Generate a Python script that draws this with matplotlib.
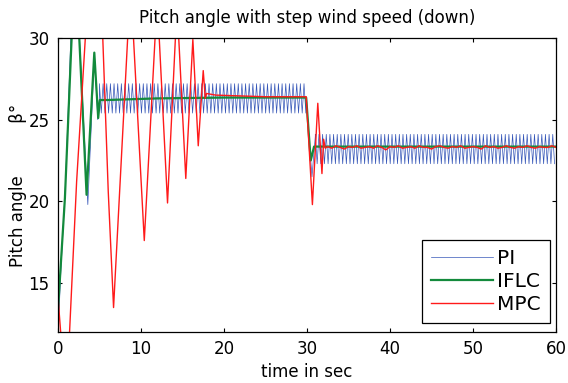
import matplotlib.pyplot as plt
import numpy as np

plt.rcParams['font.family'] = ['DejaVu Sans']

# ---- data (time in s, pitch angle in deg) ----
# PI: start-up transient, then a fast oscillation inside a band
pi_trans_t = [0.0, 0.3, 0.9, 1.55, 2.0, 2.6, 3.6, 4.4, 4.8, 5.0]
pi_trans_y = [11.5, 15.2, 21.0, 30.0, 33.0, 30.0, 19.8, 29.0, 25.0, 26.3]
pi_step_t = [29.9, 30.6, 31.0]
pi_step_y = [26.3, 21.5, 24.0]
pi_band_start = [5.0, 31.0]
pi_band_end = [29.9, 60.0]
pi_band_hi = [27.2, 24.1]
pi_band_lo = [25.4, 22.3]
pi_period = 0.44

# IFLC
iflc_t = [0.0, 0.84, 1.65, 2.1, 2.57, 3.45, 4.38, 4.85, 5.05, 6.0, 12.0, 20.0,
          29.9, 30.45, 30.85, 60.0]
iflc_y = [13.3, 20.2, 30.0, 33.5, 30.0, 20.4, 29.1, 25.1, 26.2, 26.2, 26.3, 26.35,
          26.35, 22.5, 23.35, 23.35]

# MPC
mpc_t = [0.0, 0.7, 1.4, 2.25, 3.3, 4.4, 5.4, 6.06, 6.7, 8.4, 8.75, 9.1, 10.4,
         11.7, 11.95, 12.2, 13.2, 14.15, 14.35, 14.55, 15.4, 16.25, 16.9, 17.5,
         17.75, 17.9, 19.0, 22.0, 25.0, 29.9, 30.65, 31.3, 31.8, 32.0, 32.2]
mpc_y = [14.2, 9.5, 12.0, 21.2, 30.0, 38.0, 30.0, 20.6, 13.5, 30.0, 33.0, 30.0, 17.6,
         30.0, 31.5, 30.0, 19.9, 30.0, 30.6, 30.0, 21.4, 29.9, 23.4, 28.0,
         26.3, 26.6, 26.5, 26.45, 26.4, 26.4, 19.8, 26.0, 21.7, 23.8, 23.25]
# small ripple on the settled MPC response, every 0.5 s from 32.5 s
mpc_tail_y = [23.35, 23.25, 23.4, 23.3, 23.2, 23.35, 23.3, 23.4, 23.25, 23.3,
              23.35, 23.25, 23.4, 23.3, 23.15, 23.35, 23.3, 23.4, 23.25, 23.3,
              23.35, 23.25, 23.4, 23.3, 23.3, 23.2, 23.35, 23.4, 23.3, 23.25,
              23.35, 23.3, 23.4, 23.25, 23.3, 23.35, 23.3, 23.2, 23.4, 23.3,
              23.35, 23.25, 23.3, 23.4, 23.3, 23.25, 23.35, 23.3, 23.4, 23.3,
              23.25, 23.35, 23.3, 23.3, 23.4, 23.3]


def band_zigzag(t0, t1, hi, lo, period):
    """Alternate between the band edges every half period."""
    ts = np.arange(t0, t1, period / 2)
    ys = np.where(np.arange(len(ts)) % 2 == 0, hi, lo)
    return ts, ys


pi_t = list(pi_trans_t)
pi_y = list(pi_trans_y)
for k in range(len(pi_band_start)):
    ts, ys = band_zigzag(pi_band_start[k], pi_band_end[k],
                         pi_band_hi[k], pi_band_lo[k], pi_period)
    pi_t += list(ts)
    pi_y += list(ys)
    if k == 0:
        pi_t += pi_step_t
        pi_y += pi_step_y

mpc_full_t = mpc_t + list(32.5 + 0.5 * np.arange(len(mpc_tail_y)))
mpc_full_y = mpc_y + mpc_tail_y

fig = plt.figure(figsize=(5.68, 3.83), dpi=100)
ax = fig.add_axes([0.102, 0.133, 0.877, 0.768])

ax.plot(pi_t, pi_y, color='#3556b8', linewidth=0.5, label='PI')
ax.plot(iflc_t, iflc_y, color='#138a3c', linewidth=1.6, label='IFLC')
ax.plot(mpc_full_t, mpc_full_y, color='#ff1a1a', linewidth=1.0, label='MPC')

ax.set_xlim(0, 60)
ax.set_ylim(12, 30)
ax.set_xticks([0, 10, 20, 30, 40, 50, 60])
ax.set_yticks([15, 20, 25, 30])
ax.tick_params(direction='in', length=3, top=True, right=True, labelsize=12,
               width=0.8, pad=6)
for s in ax.spines.values():
    s.set_linewidth(0.9)

ax.set_title('Pitch angle with step wind speed (down)', fontsize=12, pad=11)
ax.set_xlabel('time in sec', fontsize=12, labelpad=3)
ax.set_ylabel('Pitch angle          \u03b2\u00b0', fontsize=12, labelpad=1)

leg = ax.legend(loc='lower right', fontsize=14.5, fancybox=False, framealpha=1,
                edgecolor='black', handlelength=3.1, borderpad=0.45,
                labelspacing=0.2, handletextpad=0.2, borderaxespad=0,
                bbox_to_anchor=(0.988, 0.03))
leg.get_frame().set_linewidth(0.9)

plt.savefig('out.png', dpi=100)
